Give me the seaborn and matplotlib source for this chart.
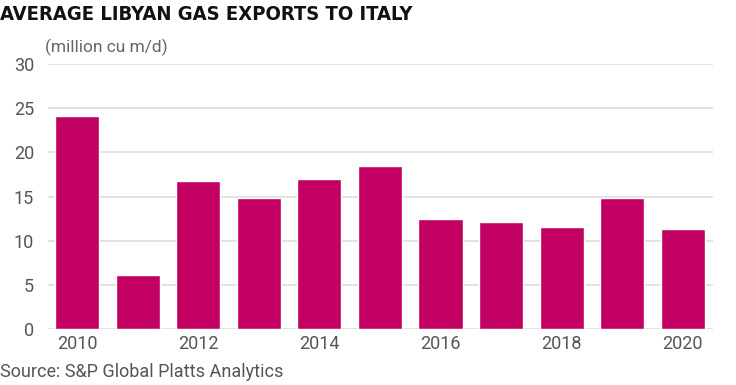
import pandas as pd
import matplotlib
matplotlib.use("Agg")
import matplotlib.pyplot as plt
import seaborn as sns

years = [str(y) for y in range(2010, 2021)]
exports = [24.1, 6.1, 16.8, 14.9, 17.0, 18.5, 12.5, 12.1, 11.6, 14.9, 11.3]
yticks = [0, 5, 10, 15, 20, 25, 30]
xtick_labels = ["2010", "2012", "2014", "2016", "2018", "2020"]

df = pd.DataFrame({"year": years, "exports": exports})

sns.set_theme(style="white")
plt.rcParams["font.family"] = ["Roboto", "DejaVu Sans"]

fig = plt.figure(figsize=(7.36, 3.85), dpi=100)
ax = fig.add_axes([0.0652, 0.1447, 0.9036, 0.6891])

sns.barplot(data=df, x="year", y="exports", color="#C10062", width=0.73,
            saturation=1, ax=ax, zorder=3)

ax.set_ylim(0, 30)
ax.set_xlim(-0.48, 10.5)
ax.set_yticks(yticks)
ax.set_yticklabels([str(t) for t in yticks])
ax.set_xticks([years.index(l) for l in xtick_labels])
ax.set_xticklabels(xtick_labels)
ax.yaxis.grid(True, color="#dddddd", linewidth=1.2, zorder=0)
ax.xaxis.grid(False)
for s in ax.spines.values():
    s.set_visible(False)
ax.tick_params(axis="y", length=0, pad=10, labelsize=13, labelcolor="#555555")
ax.tick_params(axis="x", length=0, pad=4, labelsize=13, labelcolor="#555555")
ax.set_xlabel("")
ax.set_ylabel("")

fig.text(0.0, 0.962, "AVERAGE LIBYAN GAS EXPORTS TO ITALY", fontsize=14.5,
         fontweight="bold", fontstretch="condensed", color="#111111",
         family=["DejaVu Sans"], va="center", ha="left")
fig.text(0.061, 0.877, "(million cu m/d)", fontsize=12.5, color="#666666",
         va="center", ha="left")
fig.text(0.0, 0.033, "Source: S&P Global Platts Analytics", fontsize=13,
         color="#555555", va="center", ha="left")

fig.savefig("out.png", dpi=100)
